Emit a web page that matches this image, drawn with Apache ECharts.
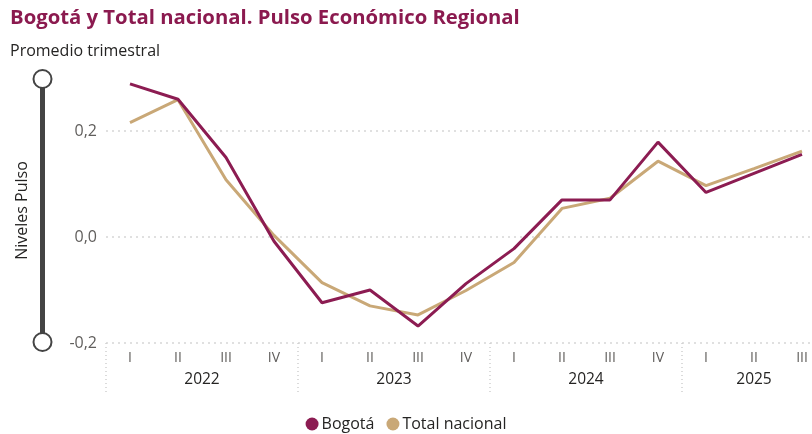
<!DOCTYPE html>
<html>
<head>
<meta charset="utf-8">
<script src="https://cdn.jsdelivr.net/npm/echarts@6/dist/echarts.min.js"></script>
<style>
html,body{margin:0;padding:0;background:#fff;}
#chart{width:812px;height:434px;}
</style>
</head>
<body>
<div id="chart"></div>
<script>
const quarters = ['I','II','III','IV','I','II','III','IV','I','II','III','IV','I','II','III'];
const years = ['2022','2022','2022','2022','2023','2023','2023','2023','2024','2024','2024','2024','2025','2025','2025'];
const bogota = [0.289, 0.260, 0.150, -0.008, -0.124, -0.100, -0.168, -0.088, -0.022, 0.070, 0.070, 0.179, 0.084, 0.120, 0.156];
const totalNacional = [0.216, 0.259, 0.108, 0.003, -0.086, -0.130, -0.147, -0.101, -0.048, 0.054, 0.073, 0.143, 0.097, 0.129, 0.162];
const yTicks = [-0.2, 0, 0.2];

const FONT = 'Open Sans';
const maroon = '#8C1C52';
const tan = '#C9A877';

function yearLabelIndex(i) {
  const y = years[i];
  const idxs = years.map((v, k) => v === y ? k : -1).filter(k => k >= 0);
  return idxs[Math.floor((idxs.length - 1) / 2)] === i;
}
function yearIsEven(i) {
  const y = years[i];
  return years.filter(v => v === y).length % 2 === 0;
}

const chart = echarts.init(document.getElementById('chart'));
chart.setOption({
  animation: false,
  textStyle: { fontFamily: FONT },
  title: [
    { text: 'Bogotá y Total nacional. Pulso Económico Regional', left: 5, top: 3,
      textStyle: { fontFamily: FONT, fontWeight: 'bold', fontSize: 20.3, color: '#8B1A4F' } },
    { text: 'Promedio trimestral', left: 5, top: 38,
      textStyle: { fontFamily: FONT, fontWeight: 'normal', fontSize: 16, color: '#252423' } }
  ],
  legend: {
    top: 411, left: 'center', icon: 'circle', itemWidth: 13, itemHeight: 13, itemGap: 12,
    textStyle: { fontFamily: FONT, fontSize: 16, color: '#252423', padding: [0, 0, 0, -2] },
    data: ['Bogotá', 'Total nacional']
  },
  grid: { left: 106, top: 78, width: 720, bottom: 91, outerBoundsMode: 'none' },
  graphic: [
    { type: 'rect', shape: { x: 40, y: 79, width: 5, height: 263 }, style: { fill: '#444' }, z: 10 },
    { type: 'circle', shape: { cx: 42.5, cy: 79, r: 9 }, style: { fill: '#fff', stroke: '#444', lineWidth: 2 }, z: 11 },
    { type: 'circle', shape: { cx: 42.5, cy: 342, r: 9 }, style: { fill: '#fff', stroke: '#444', lineWidth: 2 }, z: 11 }
  ],
  xAxis: [
    { type: 'category', data: quarters, boundaryGap: true, position: 'bottom',
      axisLine: { show: false }, axisTick: { show: false },
      axisLabel: { interval: 0, margin: 8, fontSize: 14, color: '#605E5C', fontFamily: FONT } },
    { type: 'category', data: years, boundaryGap: true, position: 'bottom',
      axisLine: { show: false },
      axisTick: { show: true, length: 52, interval: (i) => i % 4 === 0,
        lineStyle: { color: '#CFCFCF', type: [1, 3], width: 1.5 } },
      axisLabel: { interval: 0, margin: 29, fontSize: 15.5, color: '#252423', fontFamily: FONT,
        formatter: (v, i) => yearLabelIndex(i) ? (yearIsEven(i) ? '{s|' + v + '}' : v) : '',
        rich: { s: { padding: [0, 0, 0, 48], fontSize: 15.5, color: '#252423', fontFamily: FONT } } } }
  ],
  yAxis: {
    type: 'value', min: -0.2, max: 0.3, interval: 0.2,
    name: 'Niveles Pulso', nameLocation: 'middle', nameRotate: 90, nameGap: 76,
    nameTextStyle: { fontSize: 16, color: '#252423', fontFamily: FONT },
    axisLine: { show: false }, axisTick: { show: false },
    axisLabel: { margin: 9, fontSize: 16, color: '#605E5C', fontFamily: FONT, showMaxLabel: false,
      formatter: v => yTicks.some(t => Math.abs(t - v) < 1e-9) ? v.toFixed(1).replace('.', ',') : '' },
    splitLine: { show: true, showMinLine: true, showMaxLine: false,
      lineStyle: { color: '#D6D6D6', type: [2, 4], width: 1.5 } }
  },
  series: [
    { name: 'Bogotá', type: 'line', data: bogota, showSymbol: false, symbol: 'circle',
      lineStyle: { width: 3, color: maroon }, itemStyle: { color: maroon }, z: 3 },
    { name: 'Total nacional', type: 'line', data: totalNacional, showSymbol: false, symbol: 'circle',
      lineStyle: { width: 3, color: tan }, itemStyle: { color: tan }, z: 2 }
  ]
});
</script>
</body>
</html>
